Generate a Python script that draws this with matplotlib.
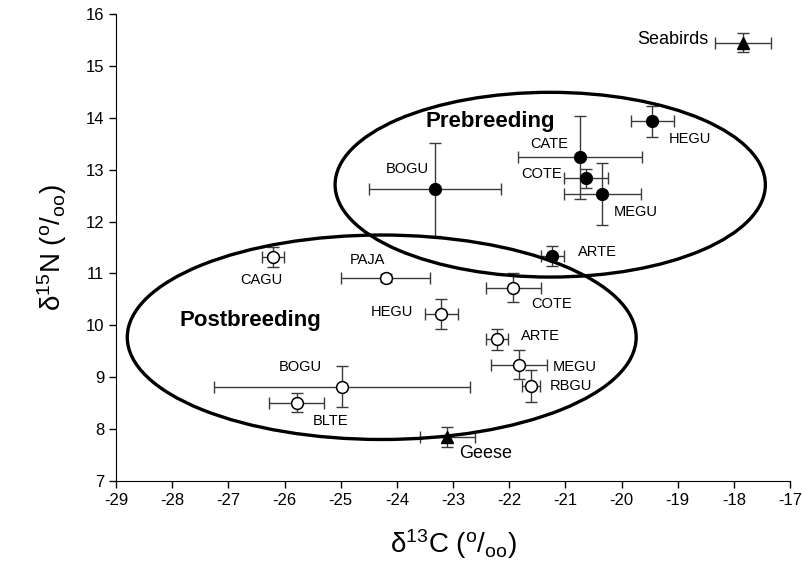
import numpy as np
import matplotlib
matplotlib.use("Agg")
from matplotlib import pyplot as plt
from matplotlib.patches import Ellipse

plt.rcParams['font.family'] = ['Liberation Sans', 'DejaVu Sans']
plt.rcParams['mathtext.fontset'] = 'custom'
plt.rcParams['mathtext.rm'] = 'Liberation Sans'
plt.rcParams['mathtext.it'] = 'Liberation Sans:italic'
plt.rcParams['axes.unicode_minus'] = False

# prebreeding (filled circles)
pre_names = ["HEGU", "CATE", "COTE", "MEGU", "BOGU", "ARTE"]
pre_c = [-19.45, -20.74, -20.64, -20.34, -23.32, -21.23]
pre_n = [13.93, 13.24, 12.83, 12.53, 12.62, 11.34]
pre_cerr = [0.39, 1.10, 0.39, 0.69, 1.18, 0.20]
pre_nerr = [0.30, 0.80, 0.19, 0.60, 0.89, 0.19]

# postbreeding (open circles)
post_names = ["CAGU", "PAJA", "HEGU", "COTE", "ARTE", "MEGU", "RBGU", "BOGU", "BLTE"]
post_c = [-26.21, -24.20, -23.21, -21.93, -22.22, -21.82, -21.62, -24.98, -25.78]
post_n = [11.32, 10.91, 10.21, 10.72, 9.73, 9.24, 8.83, 8.82, 8.51]
post_cerr = [0.20, 0.79, 0.29, 0.49, 0.19, 0.50, 0.16, 2.28, 0.49]
post_nerr = [0.19, 0.07, 0.29, 0.28, 0.20, 0.28, 0.30, 0.40, 0.19]

# reference groups (triangles)
ref_names = ["Seabirds", "Geese"]
ref_c = [-17.84, -23.10]
ref_n = [15.45, 7.85]
ref_cerr = [0.50, 0.49]
ref_nerr = [0.19, 0.19]

# label offsets in pixels (dx, dy, ha)
pre_off = [(16, -18, 'left'), (-12, 13, 'right'), (-24, 4, 'right'),
           (11, -18, 'left'), (-6, 20, 'right'), (25, 4, 'left')]
post_off = [(-11, -23, 'center'), (-18, 18, 'center'), (-28, 2, 'right'),
            (18, -16, 'left'), (24, 3, 'left'), (33, -2, 'left'),
            (19, 0, 'left'), (-20, 20, 'right'), (16, -18, 'left')]
ref_off = [(-34, 3, 'right'), (12, -17, 'left')]

fig = plt.figure(figsize=(8.03, 5.8), dpi=100)
ax = fig.add_axes([0.1445, 0.1707, 0.8394, 0.8052])

ebkw = dict(fmt='none', ecolor='#3a3a3a', elinewidth=1.0, capsize=4.5, capthick=1.0, zorder=2)
ax.errorbar(pre_c, pre_n, xerr=pre_cerr, yerr=pre_nerr, **ebkw)
ax.errorbar(post_c, post_n, xerr=post_cerr, yerr=post_nerr, **ebkw)
ax.errorbar(ref_c, ref_n, xerr=ref_cerr, yerr=ref_nerr, **ebkw)

ax.plot(pre_c, pre_n, 'o', ms=8.5, mfc='black', mec='black', ls='none', zorder=4)
ax.plot(post_c, post_n, 'o', ms=8.5, mfc='white', mec='black', mew=1.1, ls='none', zorder=4)
ax.plot(ref_c, ref_n, '^', ms=8.5, mfc='black', mec='black', ls='none', zorder=4)

for names, xs, ys, offs, fs in [(pre_names, pre_c, pre_n, pre_off, 10.5),
                                (post_names, post_c, post_n, post_off, 10.5),
                                (ref_names, ref_c, ref_n, ref_off, 13)]:
    for nm, x, y, (dx, dy, ha) in zip(names, xs, ys, offs):
        ax.annotate(nm, (x, y), xytext=(dx, dy), textcoords='offset pixels',
                    ha=ha, va='center', fontsize=fs)

# group ellipses
ax.add_patch(Ellipse((-21.27, 12.71), 7.66, 3.56, fill=False, lw=2.4, ec='black', zorder=3))
ax.add_patch(Ellipse((-24.27, 9.77), 9.06, 3.94, fill=False, lw=2.4, ec='black', zorder=3))
ax.text(-22.34, 13.92, "Prebreeding", fontsize=16, fontweight='bold', ha='center', va='center')
ax.text(-26.60, 10.10, "Postbreeding", fontsize=16, fontweight='bold', ha='center', va='center')

ax.set_xlim(-29, -17)
ax.set_ylim(7, 16)
ax.set_xticks(np.arange(-29, -16, 1))
ax.set_yticks(np.arange(7, 17, 1))
ax.spines['top'].set_visible(False)
ax.spines['right'].set_visible(False)
ax.tick_params(labelsize=12, length=5, direction='out', width=1)

ax.set_xlabel('δ$^{13}$C ($^{\\rm o}$/$_{\\rm oo}$)', fontsize=20, labelpad=14)
ax.set_ylabel('δ$^{15}$N ($^{\\rm o}$/$_{\\rm oo}$)', fontsize=20, labelpad=12)

fig.savefig("out.png", dpi=100)
